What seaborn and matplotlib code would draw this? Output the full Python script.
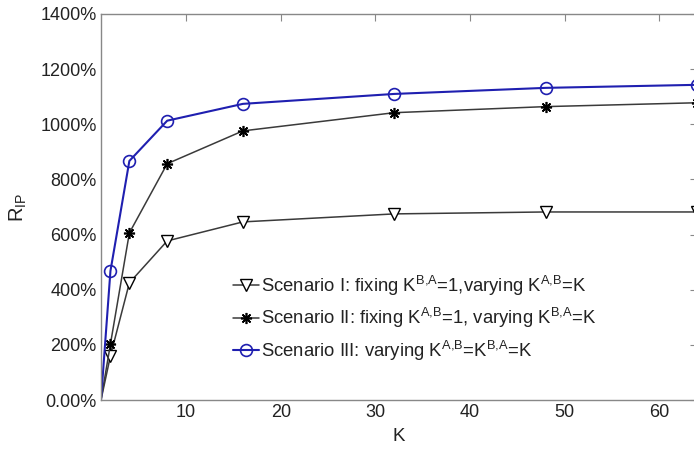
import matplotlib
matplotlib.use("Agg")
import matplotlib.pyplot as plt
import seaborn as sns
import pandas as pd
from matplotlib.lines import Line2D
from matplotlib.ticker import FuncFormatter

# Number of resources K and the resulting improvement ratio R_IP (%)
k_values = [1, 2, 4, 8, 16, 32, 48, 64]
scenario_1 = [0, 160, 425, 577, 646, 675, 682, 682]
scenario_2 = [0, 203, 606, 857, 976, 1042, 1064, 1078]
scenario_3 = [0, 468, 867, 1013, 1074, 1110, 1132, 1143]

labels = [
    "Scenario I: fixing K$^{B{,}A}$=1,varying K$^{A{,}B}$=K",
    "Scenario II: fixing K$^{A{,}B}$=1, varying K$^{B{,}A}$=K",
    "Scenario III: varying K$^{A{,}B}$=K$^{B{,}A}$=K",
]

sns.set_style("white")
plt.rcParams["font.family"] = ["Liberation Sans", "DejaVu Sans"]
plt.rcParams["mathtext.default"] = "regular"

fig = plt.figure(figsize=(6.94, 4.5), dpi=100)
ax = fig.add_axes([0.1455, 0.111, 0.859, 0.858])

styles = [
    dict(color="#3a3a3a", marker="v", markersize=9, markerfacecolor="white",
         markeredgecolor="black", markeredgewidth=1.0, linewidth=1.1),
    dict(color="#3a3a3a", marker=(8, 2, 0), markersize=8,
         markeredgecolor="black", markeredgewidth=1.2, linewidth=1.1),
    dict(color="#1f1fb0", marker="o", markersize=8.5, markerfacecolor="none",
         markeredgecolor="#1f1fb0", markeredgewidth=1.2, linewidth=1.5),
]

# the origin point (K=1, 0%) carries no marker
for vals, st in zip([scenario_1, scenario_2, scenario_3], styles):
    df = pd.DataFrame({"K": k_values, "R": vals})
    sns.lineplot(data=df, x="K", y="R", ax=ax, markevery=list(range(1, len(k_values))), **st)

ax.set_xlim(1, 64)
ax.set_ylim(0, 1400)
ax.set_xticks([10, 20, 30, 40, 50, 60])
ax.set_yticks(range(0, 1401, 200))
ax.yaxis.set_major_formatter(FuncFormatter(lambda v, p: "0.00%" if v == 0 else f"{int(v)}%"))

ax.tick_params(direction="in", length=5, width=0.8, colors="#888888",
               labelcolor="#222222", labelsize=13, top=True, right=True, pad=3)
for s in ax.spines.values():
    s.set_color("#888888")
    s.set_linewidth(1.0)

ax.set_xlabel("K", fontsize=13.5, color="#222222", labelpad=5)
ax.set_ylabel("R$_{IP}$", fontsize=14.5, color="#222222", labelpad=8)

handles = [Line2D([], [], **st) for st in styles]
leg = ax.legend(handles, labels, loc="center left", bbox_to_anchor=(0.2215, 0.2124),
                frameon=False, fontsize=13.3, handlelength=1.4, handletextpad=0.1,
                labelspacing=0.45, borderaxespad=0, borderpad=0)
for t in leg.get_texts():
    t.set_color("#222222")

fig.savefig("out.png", dpi=100)
